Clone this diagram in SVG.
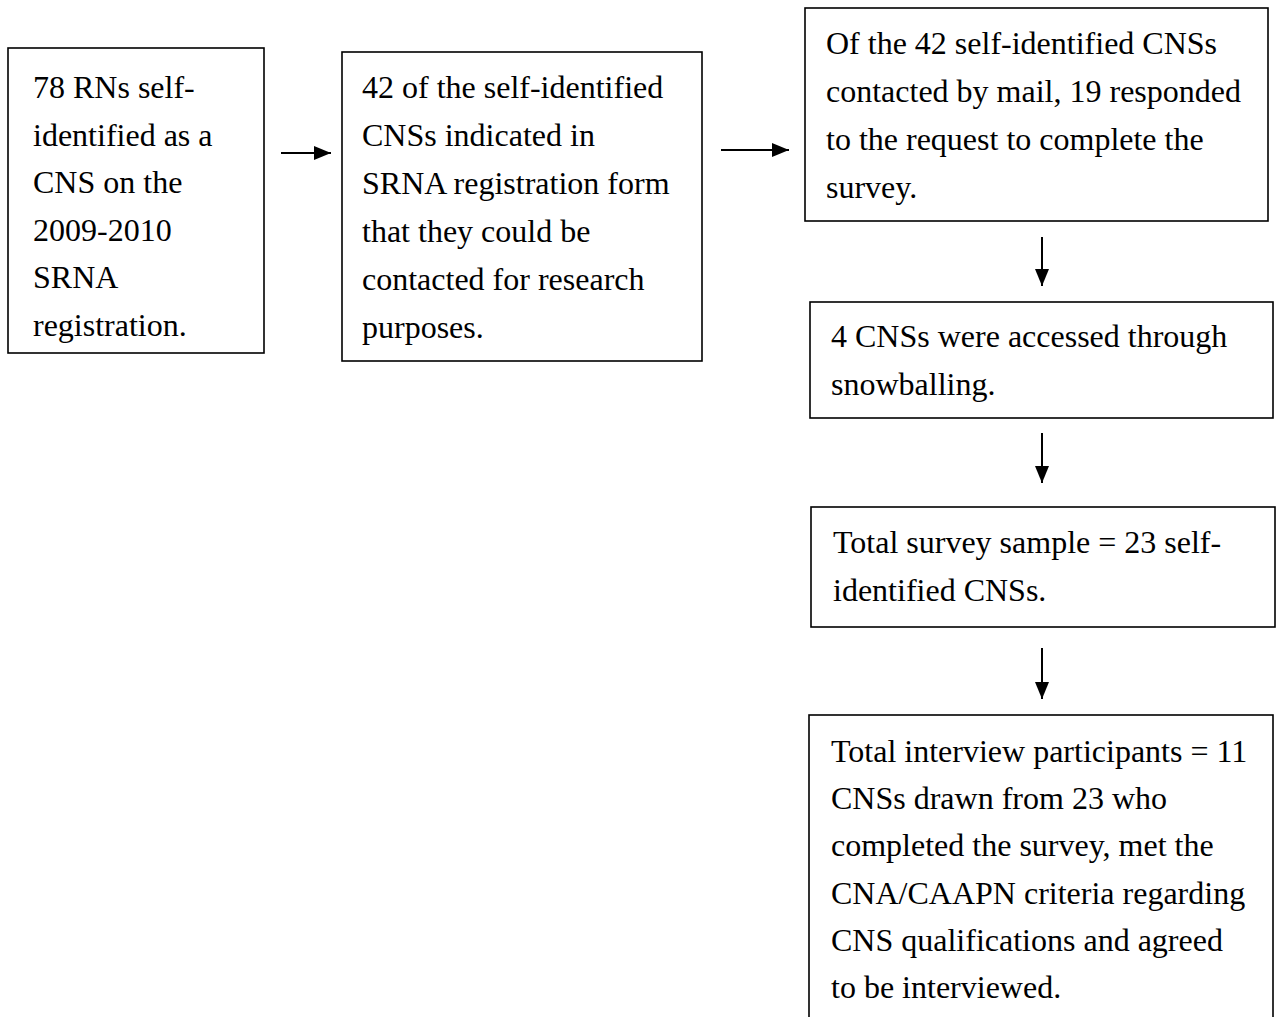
<svg xmlns="http://www.w3.org/2000/svg" width="1278" height="1017" viewBox="0 0 1278 1017">
<style>
.box{fill:#fff;stroke:#000;stroke-width:1.6}
.t{font-family:"Liberation Serif","Times New Roman",serif;font-size:32px;fill:#000}
.c{stroke:#000;stroke-width:2;fill:none}
</style>
<defs>
<marker id="ah" markerUnits="userSpaceOnUse" markerWidth="17" markerHeight="14" refX="17" refY="7" orient="auto">
<path d="M0,0 L17,7 L0,14 z" fill="#000"/>
</marker>
</defs>
<rect width="1278" height="1017" fill="#fff"/>
<g id="n1">
<rect class="box" x="8" y="48" width="256" height="305"/>
<text class="t"><tspan x="33" y="98">78 RNs self-</tspan><tspan x="33" y="145.5">identified as a</tspan><tspan x="33" y="193">CNS on the</tspan><tspan x="33" y="240.5">2009-2010</tspan><tspan x="33" y="288">SRNA</tspan><tspan x="33" y="335.5">registration.</tspan></text>
</g>
<g id="n2">
<rect class="box" x="342" y="52" width="360" height="309"/>
<text class="t"><tspan x="362" y="98">42 of the self-identified</tspan><tspan x="362" y="146">CNSs indicated in</tspan><tspan x="362" y="194">SRNA registration form</tspan><tspan x="362" y="242">that they could be</tspan><tspan x="362" y="290">contacted for research</tspan><tspan x="362" y="338">purposes.</tspan></text>
</g>
<g id="n3">
<rect class="box" x="805" y="8" width="463" height="213"/>
<text class="t"><tspan x="826" y="54">Of the 42 self-identified CNSs</tspan><tspan x="826" y="102">contacted by mail, 19 responded</tspan><tspan x="826" y="150">to the request to complete the</tspan><tspan x="826" y="198">survey.</tspan></text>
</g>
<g id="n4">
<rect class="box" x="810" y="302" width="463" height="116"/>
<text class="t"><tspan x="831" y="347">4 CNSs were accessed through</tspan><tspan x="831" y="395">snowballing.</tspan></text>
</g>
<g id="n5">
<rect class="box" x="811" y="507" width="464" height="120"/>
<text class="t"><tspan x="833" y="553">Total survey sample = 23 self-</tspan><tspan x="833" y="601">identified CNSs.</tspan></text>
</g>
<g id="n6">
<rect class="box" x="809" y="715" width="464" height="320"/>
<text class="t"><tspan x="831" y="762">Total interview participants = 11</tspan><tspan x="831" y="809">CNSs drawn from 23 who</tspan><tspan x="831" y="856">completed the survey, met the</tspan><tspan x="831" y="904">CNA/CAAPN criteria regarding</tspan><tspan x="831" y="951">CNS qualifications and agreed</tspan><tspan x="831" y="998">to be interviewed.</tspan></text>
</g>
<g id="connectors">
<line class="c" x1="281" y1="153" x2="331" y2="153" marker-end="url(#ah)"/>
<line class="c" x1="721" y1="150" x2="789" y2="150" marker-end="url(#ah)"/>
<line class="c" x1="1042" y1="237" x2="1042" y2="286" marker-end="url(#ah)"/>
<line class="c" x1="1042" y1="433" x2="1042" y2="483" marker-end="url(#ah)"/>
<line class="c" x1="1042" y1="648" x2="1042" y2="699" marker-end="url(#ah)"/>
</g>
</svg>
